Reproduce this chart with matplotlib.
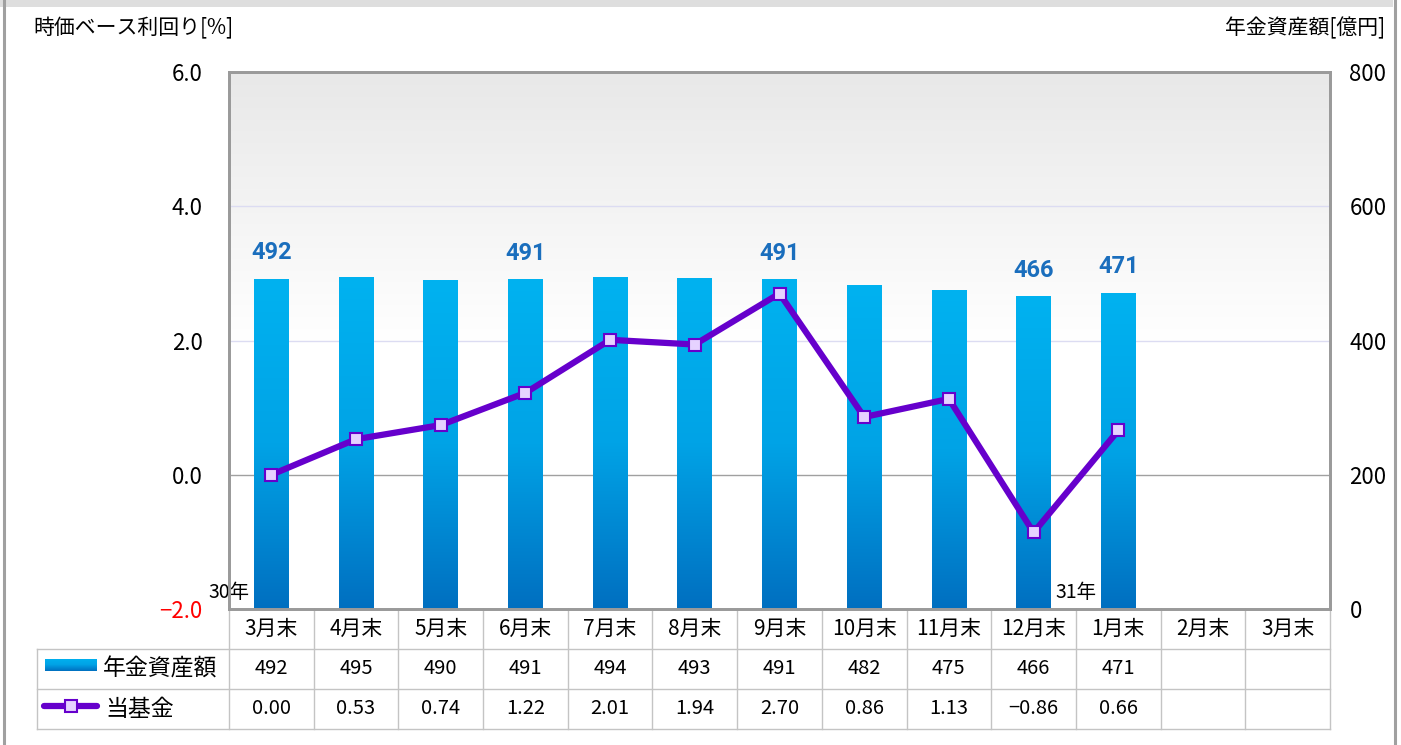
import numpy as np
import matplotlib
matplotlib.use('Agg')
import matplotlib.pyplot as plt
import matplotlib.transforms as mtransforms
from matplotlib.colors import LinearSegmentedColormap
from matplotlib.lines import Line2D
from matplotlib.patches import Rectangle

plt.rcParams['font.family'] = ['Noto Sans CJK JP', 'DejaVu Sans']

# ---- data ----
months = ['3月末', '4月末', '5月末', '6月末', '7月末', '8月末', '9月末',
          '10月末', '11月末', '12月末', '1月末', '2月末', '3月末']
assets = [492, 495, 490, 491, 494, 493, 491, 482, 475, 466, 471]     # 億円
returns = [0.00, 0.53, 0.74, 1.22, 2.01, 1.94, 2.70, 0.86, 1.13, -0.86, 0.66]  # %
label_idx = [0, 3, 6, 9, 10]          # bars with a value label on top
year_labels = ['30年', '31年']
year_pos = [-0.5, 9.5]
left_ticks = [-2, 0, 2, 4, 6]
right_ticks = [0, 200, 400, 600, 800]
series_names = ['年金資産額', '当基金']

W, H = 1401, 745
fig = plt.figure(figsize=(W / 100, H / 100), dpi=100)


def fx(px):
    return px / W


def fy(py):
    return 1 - py / H


# frame around the whole picture
fig.add_artist(Rectangle((0, fy(7)), fx(1393), fy(0) - fy(7), transform=fig.transFigure,
                         color='#dedede', lw=0))
fig.add_artist(Line2D([fx(3.5), fx(3.5)], [0, 1], transform=fig.transFigure, color='#a0a0a0', lw=2.2))
fig.add_artist(Line2D([fx(1394.5), fx(1394.5)], [0, 1], transform=fig.transFigure, color='#a0a0a0', lw=2.2))

ax = fig.add_axes([fx(229), fy(609), fx(1330) - fx(229), fy(72) - fy(609)])

# background gradient of the plot area
bg = LinearSegmentedColormap.from_list('bg', ['#ffffff', '#ffffff', '#e8e8e8'])
ax.imshow(np.linspace(0, 1, 256).reshape(-1, 1), extent=[0, 1, 0, 1], transform=ax.transAxes,
          origin='lower', aspect='auto', cmap=bg, zorder=0)

# grid lines (right 200/400/600 == left 0/2/4)
ax.axhline(200, color='#a0a0a0', lw=1, zorder=1)
ax.axhline(400, color='#dcdcf2', lw=1, zorder=1)
ax.axhline(600, color='#dcdcf2', lw=1, zorder=1)

# bars with vertical gradient
x = np.arange(len(assets))
bars = ax.bar(x, assets, width=0.41, color='#0090d8', lw=0, zorder=2)
bar_cmap = LinearSegmentedColormap.from_list('bar', ['#006fc0', '#00a3e6', '#00b2f0'])
grad = np.linspace(0, 1, 256).reshape(-1, 1)
for b in bars:
    x0, w, h = b.get_x(), b.get_width(), b.get_height()
    im = ax.imshow(grad, extent=[x0, x0 + w, 0, h], origin='lower', aspect='auto',
                   cmap=bar_cmap, zorder=2.1)
    im.set_clip_path(b)

for i in label_idx:
    ax.annotate(str(assets[i]), (i, assets[i]), xytext=(0, 14), textcoords='offset points',
                ha='center', va='baseline', color='#1a6ebd', fontsize=17, fontweight='bold',
                family=['Roboto', 'DejaVu Sans'], zorder=5)

ax.set_xlim(-0.5, len(months) - 0.5)
ax.set_ylim(0, 800)
ax.set_xticks([])

# line on the left axis
axl = ax.twinx()
axl.set_ylim(-2, 6)
axl.yaxis.tick_left()
axl.set_yticks(left_ticks)
axl.set_yticklabels(['%.1f' % v if v >= 0 else '\u2212%.1f' % -v for v in left_ticks])
axl.tick_params(axis='y', length=0, pad=19, labelsize=16)
axl.get_yticklabels()[0].set_color('red')
axl.plot(x, returns, color='#6600cc', lw=4.5, marker='s', ms=9, mfc='#e6d2ff',
         mec='#6600cc', mew=1.5, zorder=3)
axl.set_xticks([])

# asset axis on the right (after twinx, which resets it)
ax.yaxis.tick_right()
ax.set_yticks(right_ticks)
ax.tick_params(axis='y', length=0, pad=14, labelsize=16)

for a in (ax, axl):
    for s in a.spines.values():
        s.set_color('#9a9a9a')
        s.set_linewidth(2)

trans = mtransforms.blended_transform_factory(ax.transData, ax.transAxes)
for lab, p in zip(year_labels, year_pos):
    ax.text(p, 0.03, lab, transform=trans, ha='center', va='center', fontsize=14,
            color='black', zorder=6)

# axis titles
fig.text(fx(33), fy(28), '時価ベース利回り[%]', ha='left', va='center', fontsize=15)
fig.text(fx(1385), fy(28), '年金資産額[億円]', ha='right', va='center', fontsize=15)

# ---- data table under the chart ----
r = 40 / 537
lx = (37 - 229) / 1101
tc = '#c4c4c4'
for k in (1, 2, 3):
    ax.add_line(Line2D([lx, 1], [-k * r, -k * r], transform=ax.transAxes,
                       color=tc, lw=1, clip_on=False))
for k in range(len(months) + 1):
    ax.add_line(Line2D([k / len(months)] * 2, [0, -3 * r], transform=ax.transAxes,
                       color=tc, lw=1, clip_on=False))
ax.add_line(Line2D([lx, lx], [-r, -3 * r], transform=ax.transAxes, color=tc, lw=1, clip_on=False))

for i, m in enumerate(months):
    ax.text(i, -0.5 * r, m, transform=trans, ha='center', va='center', fontsize=15)
for i, v in enumerate(assets):
    ax.text(i, -1.5 * r, str(v), transform=trans, ha='center', va='center', fontsize=14.5)
for i, v in enumerate(returns):
    s = ('%.2f' % v).replace('-', '\u2212')
    ax.text(i, -2.5 * r, s, transform=trans, ha='center', va='center', fontsize=14.5)

ax.text((103 - 229) / 1101, -1.5 * r, series_names[0], transform=ax.transAxes,
        ha='left', va='center', fontsize=16.5)
ax.text((105 - 229) / 1101, -2.5 * r, series_names[1], transform=ax.transAxes,
        ha='left', va='center', fontsize=16.5)

# legend glyphs
lg = fig.add_axes([fx(45), fy(671), fx(97) - fx(45), fy(659) - fy(671)])
lg.imshow(grad, origin='lower', aspect='auto', cmap=bar_cmap, extent=[0, 1, 0, 1])
lg.axis('off')
fig.add_artist(Line2D([fx(44), fx(97)], [fy(706), fy(706)], transform=fig.transFigure,
                      color='#6600cc', lw=4.5, solid_capstyle='round'))
fig.add_artist(Line2D([fx(71)], [fy(706)], transform=fig.transFigure, marker='s', ms=9,
                      mfc='#e6d2ff', mec='#6600cc', mew=1.5))

fig.savefig('out.png', dpi=100)
